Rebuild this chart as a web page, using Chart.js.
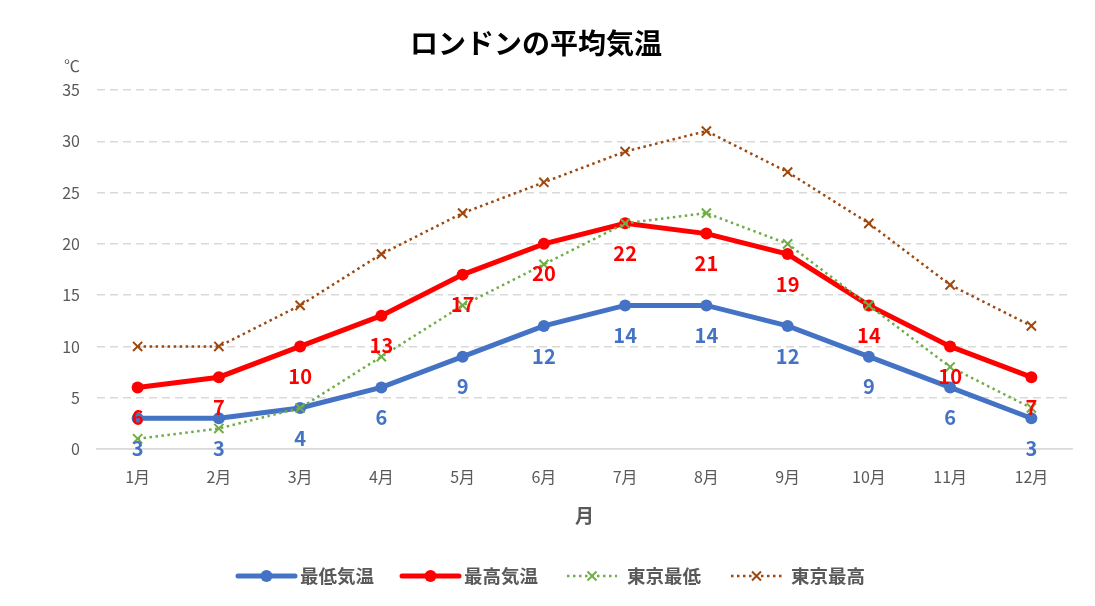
<!DOCTYPE html>
<html><head><meta charset="utf-8">
<script src="https://cdn.jsdelivr.net/npm/chart.js@4/dist/chart.umd.min.js"></script>
<style>html,body{margin:0;padding:0;background:#fff;}#wrap{width:1095px;height:606px;}</style>
</head><body><div id="wrap"><canvas id="c" width="1095" height="606"></canvas></div>
<script>
const months = ['1月','2月','3月','4月','5月','6月','7月','8月','9月','10月','11月','12月'];
const londonMin = [3,3,4,6,9,12,14,14,12,9,6,3];
const londonMax = [6,7,10,13,17,20,22,21,19,14,10,7];
const tokyoMin = [1,2,4,9,14,18,22,23,20,14,8,4];
const tokyoMax = [10,10,14,19,23,26,29,31,27,22,16,12];
const seriesNames = ['最低気温','最高気温','東京最低','東京最高'];
const titleText = 'ロンドンの平均気温';
const yUnit = '℃';
const xTitle = '月';

const JP = '"Noto Sans CJK JP", "Noto Sans", sans-serif';
const C_BLUE = '#4472C4', C_RED = '#FF0000', C_GREEN = '#70AD47', C_BROWN = '#9E480E';

const decorPlugin = {
  id: 'decor',
  afterDatasetsDraw(chart) {
    const ctx = chart.ctx;
    [0,1].forEach(di => {
      const meta = chart.getDatasetMeta(di);
      const ds = chart.data.datasets[di];
      ctx.save();
      ctx.font = 'bold 20px ' + JP;
      ctx.fillStyle = ds.borderColor;
      ctx.textAlign = 'center';
      ctx.textBaseline = 'middle';
      meta.data.forEach((pt, i) => {
        ctx.fillText(String(ds.data[i]), pt.x, pt.y + 30);
      });
      ctx.restore();
    });
  },
  afterDraw(chart) {
    const ctx = chart.ctx;
    const ca = chart.chartArea;
    ctx.save();
    ctx.font = 'bold 28px ' + JP;
    ctx.fillStyle = '#000';
    ctx.textAlign = 'center';
    ctx.textBaseline = 'middle';
    ctx.fillText(titleText, 536, 43);
    ctx.font = '16px ' + JP;
    ctx.fillStyle = '#595959';
    ctx.textAlign = 'right';
    ctx.fillText(yUnit, 80, 66);
    ctx.font = 'bold 19px ' + JP;
    ctx.textAlign = 'center';
    ctx.fillText(xTitle, (ca.left + ca.right) / 2, 516);
    const items = [
      {x0: 238, x1: 295, tx: 300},
      {x0: 402, x1: 459, tx: 464},
      {x0: 567, x1: 617, tx: 627},
      {x0: 731, x1: 782, tx: 791}
    ];
    const ly = 576;
    chart.data.datasets.forEach((ds, i) => {
      const it = items[i];
      ctx.save();
      ctx.strokeStyle = ds.borderColor;
      ctx.lineWidth = ds.borderWidth;
      ctx.setLineDash(ds.borderDash || []);
      ctx.lineCap = (ds.borderDash && ds.borderDash.length) ? 'butt' : 'round';
      ctx.beginPath();
      ctx.moveTo(it.x0, ly); ctx.lineTo(it.x1, ly);
      ctx.stroke();
      ctx.restore();
      const cx = (it.x0 + it.x1) / 2;
      if (ds.pointStyle === 'circle') {
        ctx.beginPath();
        ctx.fillStyle = ds.borderColor;
        ctx.arc(cx, ly, ds.pointRadius, 0, Math.PI * 2);
        ctx.fill();
      } else {
        ctx.save();
        ctx.strokeStyle = ds.borderColor;
        ctx.lineWidth = 2;
        const r = 4.5;
        ctx.beginPath();
        ctx.moveTo(cx - r, ly - r); ctx.lineTo(cx + r, ly + r);
        ctx.moveTo(cx + r, ly - r); ctx.lineTo(cx - r, ly + r);
        ctx.stroke();
        ctx.restore();
      }
      ctx.font = 'bold 18.5px ' + JP;
      ctx.fillStyle = '#595959';
      ctx.textAlign = 'left';
      ctx.textBaseline = 'middle';
      ctx.fillText(seriesNames[i], it.tx, ly);
    });
    ctx.restore();
  }
};

new Chart(document.getElementById('c'), {
  type: 'line',
  data: {
    labels: months,
    datasets: [
      {label: seriesNames[0], data: londonMin, borderColor: C_BLUE, backgroundColor: C_BLUE,
       borderWidth: 5, pointStyle: 'circle', pointRadius: 6, pointBorderWidth: 0, order: 4},
      {label: seriesNames[1], data: londonMax, borderColor: C_RED, backgroundColor: C_RED,
       borderWidth: 5, pointStyle: 'circle', pointRadius: 6, pointBorderWidth: 0, order: 3},
      {label: seriesNames[2], data: tokyoMin, borderColor: C_GREEN, backgroundColor: C_GREEN,
       borderWidth: 2.5, borderDash: [2.5, 3.5], pointStyle: 'crossRot', pointRadius: 6.5, pointBorderWidth: 2, order: 2},
      {label: seriesNames[3], data: tokyoMax, borderColor: C_BROWN, backgroundColor: C_BROWN,
       borderWidth: 2.5, borderDash: [2.5, 3.5], pointStyle: 'crossRot', pointRadius: 6.5, pointBorderWidth: 2, order: 1}
    ]
  },
  options: {
    responsive: false,
    animation: false,
    devicePixelRatio: 1,
    layout: {padding: {left: 0, right: 23, top: 90, bottom: 0}},
    plugins: {legend: {display: false}, title: {display: false}, tooltip: {enabled: false}},
    elements: {line: {tension: 0}},
    scales: {
      x: {
        type: 'category',
        offset: true,
        grid: {display: false, drawTicks: false},
        border: {display: true, color: '#D9D9D9', width: 1.5},
        ticks: {color: '#595959', font: {family: JP, size: 16}, padding: 18, maxRotation: 0, autoSkip: false},
        afterFit(scale) { scale.height = 606 - 449; }
      },
      y: {
        min: 0, max: 35,
        ticks: {stepSize: 5, color: '#595959', font: {family: JP, size: 16}, padding: 17},
        grid: {color: '#D9D9D9', lineWidth: 1.5, drawTicks: false},
        border: {display: false, dash: (c) => (c.tick && c.tick.value === 0) ? [] : [8, 5]},
        afterFit(scale) { scale.width = 97; }
      }
    }
  },
  plugins: [decorPlugin]
});
</script>
</body></html>
